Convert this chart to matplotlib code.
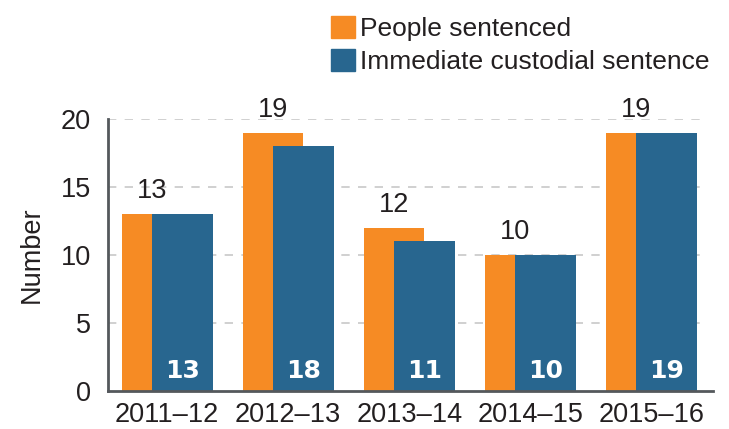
import matplotlib.pyplot as plt
import numpy as np
from matplotlib.patches import Patch

plt.rcParams['font.family'] = ['Liberation Sans', 'DejaVu Sans']

YEARS = ['2011–12', '2012–13', '2013–14', '2014–15', '2015–16']
SENTENCED = [13, 19, 12, 10, 19]
CUSTODIAL = [13, 18, 11, 10, 19]

ORANGE = '#f68b24'
BLUE = '#28668f'
TEXT = '#231f20'
SPINE = '#54585c'


def main():
    fig = plt.figure(figsize=(7.29, 4.29), dpi=100)
    ax = fig.add_axes([0.148, 0.0886, 0.83, 0.634])

    x = np.arange(len(YEARS))
    w = 0.5
    ax.bar(x - 0.125, SENTENCED, w, color=ORANGE, zorder=2)
    ax.bar(x + 0.125, CUSTODIAL, w, color=BLUE, zorder=3)

    for xi, v in zip(x, SENTENCED):
        ax.annotate(str(v), (xi - 0.125, v), xytext=(0, 7), textcoords='offset points',
                    ha='center', va='bottom', fontsize=19.5, color=TEXT)
    for xi, v in zip(x, CUSTODIAL):
        ax.annotate(str(v), (xi + 0.125, 0), xytext=(0, 9), textcoords='offset points',
                    ha='center', va='baseline', fontsize=18, color='white',
                    fontweight='bold', family='DejaVu Sans', zorder=4)

    for y in [5, 10, 15, 20]:
        ax.axhline(y, xmin=0, xmax=0.99, color='#c8c8c8', lw=1.2,
                   dashes=(5, 5), zorder=1)

    ax.set_xlim(-0.49, 4.51)
    ax.set_ylim(0, 20)
    ax.set_yticks([0, 5, 10, 15, 20])
    ax.set_xticks(x)
    ax.set_xticklabels(YEARS)
    ax.tick_params(axis='both', length=0, labelsize=19.5, colors=TEXT)
    ax.tick_params(axis='y', pad=12)
    ax.tick_params(axis='x', pad=8)
    ax.set_ylabel('Number', fontsize=19.5, color=TEXT, labelpad=12)

    for s in ['top', 'right']:
        ax.spines[s].set_visible(False)
    for s in ['left', 'bottom']:
        ax.spines[s].set_color(SPINE)
        ax.spines[s].set_linewidth(2)
        ax.spines[s].set_zorder(5)

    handles = [Patch(color=ORANGE, label='People sentenced'),
               Patch(color=BLUE, label='Immediate custodial sentence')]
    fig.legend(handles=handles, loc='upper left', bbox_to_anchor=(0.432, 1.0),
               frameon=False, fontsize=19, handlelength=0.9, handleheight=0.9,
               handletextpad=0.2, labelspacing=0.3, labelcolor=TEXT,
               borderaxespad=0.2)

    fig.savefig('out.png', dpi=100)


if __name__ == '__main__':
    main()
